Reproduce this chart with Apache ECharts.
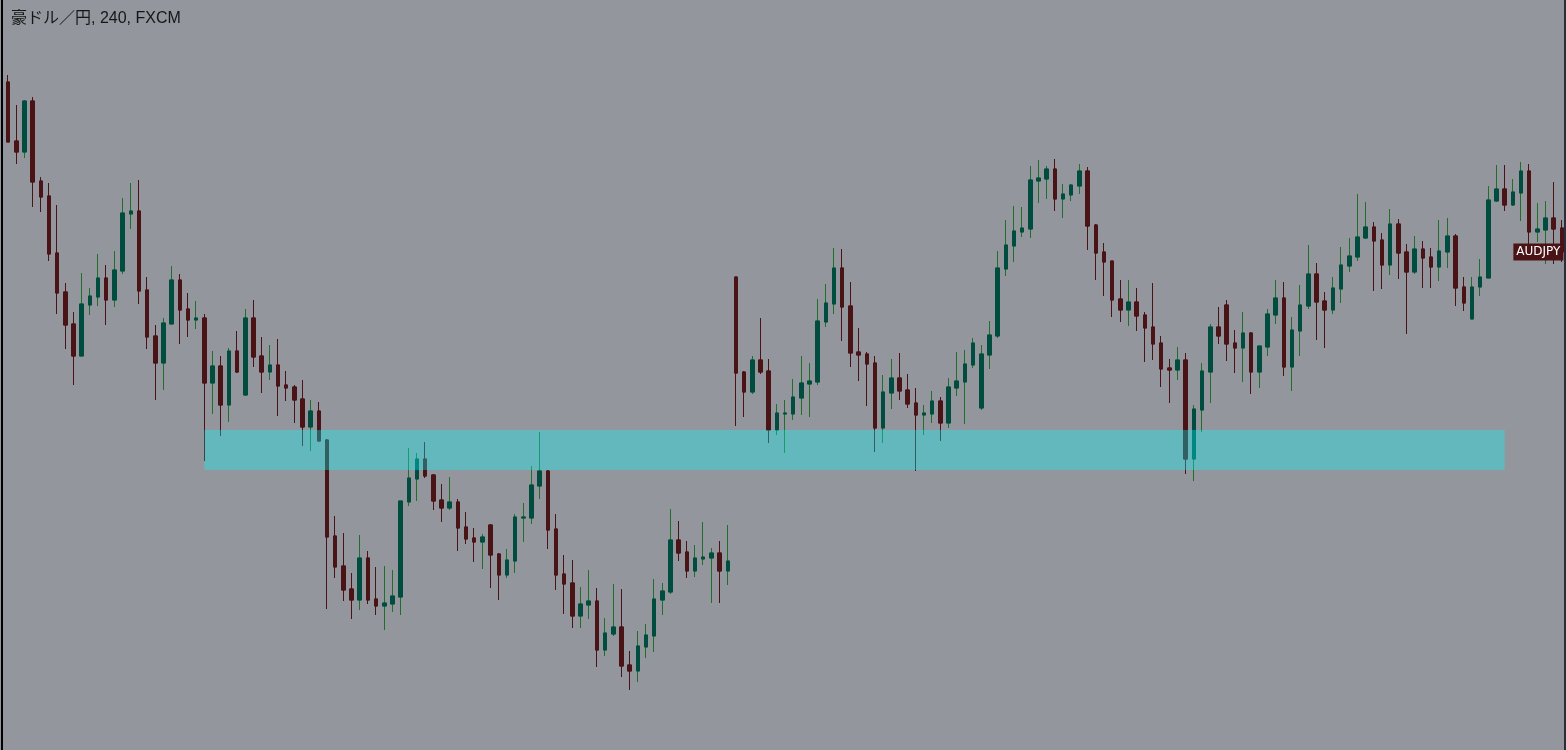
<!DOCTYPE html>
<html>
<head>
<meta charset="utf-8">
<script src="https://cdn.jsdelivr.net/npm/echarts@6/dist/echarts.min.js"></script>
<style>
  html, body { margin: 0; padding: 0; background: #94969e; }
  #chart { position: absolute; left: 0; top: 0; width: 1566px; height: 750px; }
  #lb { position: absolute; left: 1px; top: 0; width: 2px; height: 750px; background: #000; }
  #rb { position: absolute; left: 1564px; top: 0; width: 2px; height: 750px; background: #2a2e39; }
</style>
</head>
<body>
<div id="chart"></div>
<div id="lb"></div>
<div id="rb"></div>
<script>
const titleText = '豪ドル／円, 240, FXCM';
const symbolLabel = 'AUDJPY';

const opens = [89.18,88.59,88.48,88.99,88.19,88.04,87.47,87.08,86.76,86.44,86.95,87.03,87.22,87.00,87.29,87.86,87.89,87.10,86.64,86.37,86.76,87.20,86.91,86.80,86.82,86.17,86.34,85.95,86.49,86.05,86.82,86.44,86.28,86.35,86.15,86.13,86.01,85.73,85.89,85.60,84.64,84.34,84.11,84.00,84.42,84.01,83.94,83.96,84.03,84.98,85.21,85.41,85.25,85.00,84.92,84.98,84.73,84.62,84.58,84.75,84.46,84.25,84.39,84.82,84.82,85.14,85.29,84.71,84.26,84.17,83.84,83.95,83.99,83.50,83.66,83.73,83.35,83.29,83.53,83.64,84.00,84.08,84.60,84.48,84.29,84.41,84.42,84.47,84.29,87.23,86.28,86.08,86.40,86.29,85.70,85.86,85.86,86.02,86.16,86.18,86.78,86.96,87.32,86.94,86.48,86.46,86.37,85.72,86.07,86.22,86.10,85.97,85.85,85.86,85.99,85.77,86.12,86.18,86.35,85.92,86.45,86.64,87.31,87.54,87.68,87.71,88.19,88.21,88.31,88.01,88.05,88.14,88.29,87.75,87.48,87.39,87.01,86.90,86.98,86.85,86.73,86.57,86.32,86.30,86.40,85.41,85.90,86.28,86.73,86.95,86.57,86.52,86.67,86.28,86.53,86.85,87.02,86.33,86.69,86.94,87.26,86.99,86.90,87.11,87.34,87.43,87.62,87.73,87.60,87.35,87.76,87.48,87.28,87.51,87.43,87.33,87.48,87.64,87.13,86.81,87.13,87.22,87.99,88.11,87.95,88.07,88.29,87.68,87.70,87.82,87.72];
const closes = [88.58,88.48,88.99,88.18,88.03,87.46,87.07,86.75,86.44,86.96,87.04,87.22,87.00,87.30,87.87,87.89,87.09,86.63,86.37,86.77,87.20,86.90,86.80,86.82,86.17,86.34,85.95,86.49,86.28,86.82,86.43,86.28,86.35,86.14,86.12,86.00,85.73,85.89,85.59,84.63,84.33,84.10,84.00,84.42,84.00,83.94,83.97,84.04,84.99,85.22,85.41,85.24,84.99,84.92,84.98,84.72,84.61,84.58,84.63,84.45,84.25,84.40,84.83,84.83,85.15,85.29,84.70,84.25,84.16,83.84,83.96,83.99,83.50,83.67,83.73,83.34,83.29,83.54,83.65,84.01,84.09,84.60,84.47,84.29,84.42,84.43,84.47,84.29,84.39,86.27,86.08,86.40,86.28,85.70,85.87,85.87,86.03,86.17,86.19,86.79,86.97,87.32,86.93,86.47,86.45,86.36,85.72,86.08,86.22,86.09,85.96,85.85,85.87,85.99,85.77,86.13,86.19,86.36,86.57,86.46,86.65,87.32,87.55,87.69,87.72,88.20,88.22,88.31,88.01,88.06,88.15,88.29,87.74,87.47,87.38,87.00,86.90,86.98,86.84,86.72,86.56,86.31,86.30,86.40,85.41,85.91,86.29,86.73,86.64,86.56,86.52,86.67,86.28,86.54,86.86,87.02,86.33,86.70,86.95,87.26,86.98,86.90,87.12,87.35,87.44,87.63,87.73,87.59,87.35,87.76,87.47,87.28,87.51,87.42,87.33,87.49,87.64,87.12,86.97,87.13,87.23,88.00,88.11,87.95,88.08,88.29,87.68,87.71,87.82,87.71,87.48];
const lows = [88.58,88.36,88.42,87.93,87.88,87.39,86.86,86.51,86.15,86.44,86.85,86.94,86.75,86.93,87.26,87.71,86.96,86.51,86.00,86.10,86.76,86.56,86.63,86.71,85.39,85.86,85.64,85.78,86.27,86.04,86.33,86.07,86.20,85.84,85.99,85.77,85.54,85.49,85.59,83.91,84.22,83.99,83.81,83.90,83.96,83.85,83.70,83.88,83.85,84.94,84.99,85.22,84.90,84.78,84.90,84.49,84.56,84.38,84.31,84.12,84.00,84.22,84.27,84.58,84.76,85.01,84.51,84.10,83.86,83.72,83.72,83.81,83.33,83.44,83.64,83.23,83.10,83.18,83.42,83.48,83.85,84.06,84.39,84.22,84.23,84.35,83.97,83.97,84.15,85.74,85.83,86.06,86.26,85.57,85.65,85.47,85.80,85.85,85.83,86.15,86.73,86.86,86.59,86.33,86.19,85.94,85.48,85.57,85.91,86.00,85.92,85.29,85.65,85.77,85.59,85.72,86.04,85.76,86.32,85.90,86.31,86.62,87.24,87.38,87.63,87.62,87.97,88.01,87.89,87.82,87.99,88.06,87.50,87.20,87.04,86.83,86.78,86.74,86.69,86.38,86.40,86.13,85.97,86.20,85.26,85.19,85.68,85.97,86.56,86.39,86.27,86.18,86.06,86.12,86.44,86.76,86.24,86.09,86.44,86.91,86.60,86.52,86.86,86.97,87.28,87.39,87.61,87.09,87.11,87.25,87.21,86.66,87.26,87.12,87.12,87.19,87.32,86.94,86.89,86.81,87.04,87.22,87.98,87.89,87.94,87.79,87.50,87.58,87.36,87.36,87.38];
const highs = [89.25,88.95,89.00,89.03,88.23,88.17,87.95,87.17,86.88,87.27,87.12,87.46,87.35,87.49,88.02,88.17,88.20,87.23,86.75,86.82,87.34,87.26,87.07,86.99,86.86,86.49,86.44,86.52,86.69,86.91,87.00,86.63,86.55,86.61,86.29,86.15,86.20,86.00,85.98,85.61,84.84,84.67,84.27,84.65,84.49,84.33,84.34,84.30,84.99,85.52,85.47,85.58,85.26,85.16,85.23,85.01,84.88,84.72,84.66,84.76,84.47,84.51,84.86,84.97,85.34,85.68,85.30,84.86,84.45,84.40,84.13,84.30,84.12,83.82,84.16,84.11,83.49,83.69,83.76,84.21,84.17,84.91,84.79,84.59,84.55,84.78,84.52,84.59,84.75,87.23,86.29,86.44,86.82,86.41,85.96,86.00,86.21,86.44,86.37,87.01,87.16,87.52,87.51,87.18,86.72,86.48,86.44,86.25,86.41,86.47,86.26,86.12,85.95,86.09,86.03,86.22,86.48,86.50,86.62,86.55,86.79,87.49,87.80,87.94,87.93,88.34,88.40,88.34,88.41,88.16,88.16,88.36,88.33,87.76,87.57,87.39,87.20,87.20,87.12,86.88,87.17,86.64,86.41,86.53,86.47,85.95,86.37,86.76,86.93,87.00,86.70,86.88,86.68,86.54,86.91,87.20,87.18,86.83,87.15,87.55,87.37,87.08,87.23,87.53,87.62,88.06,87.98,87.78,87.67,87.91,87.81,87.56,87.64,87.59,87.52,87.80,87.82,87.66,87.23,87.23,87.41,88.14,88.35,88.35,88.21,88.38,88.36,87.97,87.99,88.18,87.80];

// support zone (price range) and the bar span it covers
const zoneTop = 85.70;
const zoneBottom = 85.30;
const zoneStartBar = 24;
const zoneEndBar = 183;
const labelBar = 187;

const categories = opens.map((_, i) => String(i));
const fullBars = opens.map((o, i) => [o, closes[i], lows[i], highs[i]]);
const bodyBars = opens.map((o, i) => [o, closes[i], Math.min(o, closes[i]), Math.max(o, closes[i])]);

const UP = '#004d40', DOWN = '#4a1316', UPWICK = '#1f6f2b';

const chart = echarts.init(document.getElementById('chart'), null, { renderer: 'canvas' });
chart.setOption({
  backgroundColor: '#94969e',
  animation: false,
  title: {
    text: titleText, left: 11, top: 11, padding: 0,
    textStyle: { fontSize: 16, fontWeight: 'normal', color: '#161616', fontFamily: '"Liberation Sans", "Noto Sans CJK JP", sans-serif' }
  },
  grid: { left: 4, top: 0, width: 1563, height: 750 },
  xAxis: { type: 'category', data: categories, show: false, boundaryGap: true },
  yAxis: { type: 'value', min: 82.5, max: 90, show: false, splitLine: { show: false } },
  series: [
    {
      name: 'wicks', type: 'candlestick', data: fullBars, barWidth: 4, z: 2,
      itemStyle: { color: UP, color0: DOWN, borderColor: UPWICK, borderColor0: DOWN, borderWidth: 1 }
    },
    {
      name: 'bodies', type: 'candlestick', data: bodyBars, barWidth: 4, z: 3,
      itemStyle: { color: UP, color0: DOWN, borderColor: UP, borderColor0: DOWN, borderWidth: 1 },
      markPoint: {
        z: 6,
        symbol: 'rect', symbolSize: [50, 17],
        symbolOffset: [1, 0],
        itemStyle: { color: DOWN },
        label: { show: true, position: 'inside', color: '#ffffff', fontSize: 12, fontFamily: '"DejaVu Sans", sans-serif', formatter: symbolLabel },
        data: [{ coord: [categories[labelBar], closes[closes.length - 1]] }]
      }
    },
    {
      name: 'zone', type: 'line', data: [], z: 10,
      markArea: {
        z: 10, silent: true,
        itemStyle: { color: 'rgba(0,255,255,0.33)', borderWidth: 0 },
        data: [[{ xAxis: categories[zoneStartBar], yAxis: zoneTop }, { xAxis: categories[zoneEndBar], yAxis: zoneBottom }]]
      }
    }
  ]
});
</script>
</body>
</html>
